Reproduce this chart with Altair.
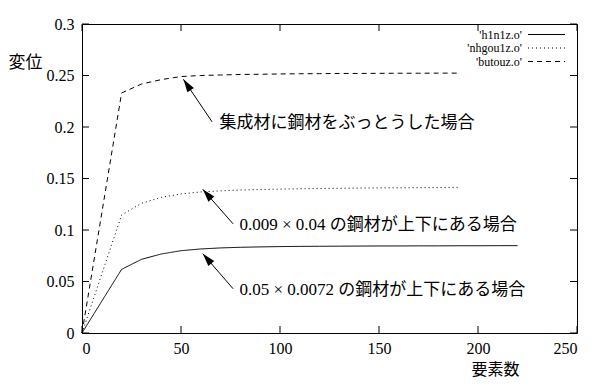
import math
import altair as alt
import pandas as pd

# ---------------- data ----------------
x_short = [0, 20, 30, 40, 50, 60, 70, 80, 90, 100, 110, 120, 130, 140, 150, 160, 170, 180, 190]
x_long = [0, 20, 30, 40, 50, 60, 70, 80, 90, 100, 110, 120, 130, 140, 150, 160, 170, 180, 190, 200, 210, 220]

h1n1z = [0, 0.0618, 0.0715, 0.0767, 0.0799, 0.0816, 0.0826, 0.0832, 0.0836, 0.0839, 0.0841,
         0.0842, 0.0843, 0.0844, 0.0845, 0.0845, 0.0846, 0.0846, 0.0847, 0.0847, 0.0848, 0.0848]
nhgou1z = [0, 0.1146, 0.1259, 0.1317, 0.1350, 0.1370, 0.1380, 0.1388, 0.1393, 0.1397, 0.1400,
           0.1403, 0.1405, 0.1407, 0.1409, 0.1410, 0.1411, 0.1412, 0.1414]
butouz = [0, 0.2330, 0.2417, 0.2460, 0.2490, 0.2500, 0.2505, 0.2510, 0.2512, 0.2515, 0.2517,
          0.2518, 0.2520, 0.2520, 0.2521, 0.2522, 0.2522, 0.2523, 0.2523]

series_names = ["'h1n1z.o'", "'nhgou1z.o'", "'butouz.o'"]
series_dash = [[1, 0], [1, 3], [5, 4]]

x_ticks = [0, 50, 100, 150, 200, 250]
y_ticks = [0, 0.05, 0.1, 0.15, 0.2, 0.25, 0.3]

ann_text = ["集成材に鋼材をぶっとうした場合",
            "0.009 × 0.04 の鋼材が上下にある場合",
            "0.05 × 0.0072 の鋼材が上下にある場合"]
ann_text_x = [69.5, 79.5, 79.5]
ann_text_y = [0.204, 0.105, 0.042]
ann_tail_x = [65.7, 76.3, 76.3]
ann_tail_y = [0.205, 0.106, 0.043]
ann_head_x = [51.2, 61.0, 61.0]
ann_head_y = [0.2463, 0.1395, 0.0770]

# ---------------- layout ----------------
W, H = 495, 309
XMAX, YMAX = 250, 0.3
SERIF = "Liberation Serif"
FONT = "Liberation Serif, Noto Sans CJK JP"

xs = alt.Scale(domain=[0, XMAX], nice=False, zero=False)
ys = alt.Scale(domain=[0, YMAX], nice=False, zero=False)

xaxis = alt.Axis(values=x_ticks, ticks=False, domain=False, grid=False, labelPadding=7,
                 labelFont=SERIF, labelFontSize=16, labelColor="black",
                 title="要素数", titleAngle=0, titleX=413, titleY=36, titleBaseline="middle",
                 titleAlign="center", titleFont="Noto Sans CJK JP", titleFontSize=16,
                 titleFontWeight="normal", titleColor="black")
yaxis = alt.Axis(values=y_ticks, ticks=False, domain=False, grid=False, labelPadding=8,
                 format="~g", labelFont=SERIF, labelFontSize=16, labelColor="black",
                 title="変位", titleAngle=0, titleX=-74, titleY=38, titleBaseline="middle",
                 titleAlign="left", titleFont="Noto Sans CJK JP", titleFontSize=17,
                 titleFontWeight="normal", titleColor="black")


def X(f):
    return alt.X(f, type="quantitative", scale=xs, axis=xaxis)


def Y(f):
    return alt.Y(f, type="quantitative", scale=ys, axis=yaxis)


# ---------------- series ----------------
frames = []
for name, xv, yv in [(series_names[0], x_long, h1n1z),
                     (series_names[1], x_short, nhgou1z),
                     (series_names[2], x_short, butouz)]:
    frames.append(pd.DataFrame({"x": xv, "y": yv, "series": name}))
df = pd.concat(frames, ignore_index=True)

lines = alt.Chart(df).mark_line(color="black", strokeWidth=1).encode(
    x=X("x"), y=Y("y"),
    detail="series:N",
    strokeDash=alt.StrokeDash("series:N", scale=alt.Scale(domain=series_names, range=series_dash),
                              legend=None),
)

# ---------------- inward ticks (mirror on all four sides) ----------------
tx = pd.DataFrame({"x": x_ticks})
ty = pd.DataFrame({"y": y_ticks})
TL = 7
tick_layers = [
    alt.Chart(tx).mark_rule(color="black", strokeWidth=1).encode(x=X("x"), y=alt.value(H), y2=alt.value(H - TL)),
    alt.Chart(tx).mark_rule(color="black", strokeWidth=1).encode(x=X("x"), y=alt.value(0), y2=alt.value(TL)),
    alt.Chart(ty).mark_rule(color="black", strokeWidth=1).encode(y=Y("y"), x=alt.value(0), x2=alt.value(TL)),
    alt.Chart(ty).mark_rule(color="black", strokeWidth=1).encode(y=Y("y"), x=alt.value(W), x2=alt.value(W - TL)),
]

# ---------------- annotations with arrows ----------------
sx = W / XMAX
sy = H / YMAX
angles = []
for a, b, c, d in zip(ann_tail_x, ann_tail_y, ann_head_x, ann_head_y):
    dx = (c - a) * sx
    dy = -(d - b) * sy
    angles.append(math.degrees(math.atan2(dx, -dy)) % 360)

adf = pd.DataFrame({"tx": ann_tail_x, "ty": ann_tail_y, "hx": ann_head_x, "hy": ann_head_y,
                    "lx": ann_text_x, "ly": ann_text_y, "label": ann_text, "ang": angles})

arrow_lines = alt.Chart(adf).mark_rule(color="black", strokeWidth=1).encode(
    x=X("tx"), y=Y("ty"), x2="hx", y2="hy")
arrow_heads = alt.Chart(adf).mark_point(
    shape="M0,0L0.3,1L-0.3,1Z", filled=True, size=676, color="black", opacity=1, strokeWidth=0
).encode(x=X("hx"), y=Y("hy"), angle=alt.Angle("ang:Q", scale=None))
ann_labels = alt.Chart(adf).mark_text(
    align="left", baseline="middle", font=FONT, fontSize=17, color="black"
).encode(x=X("lx"), y=Y("ly"), text="label:N")

# ---------------- legend (gnuplot style: label left, sample right) ----------------
leg_y = [10.5, 24, 37.5]
legend_layers = []
for name, dash, yy in zip(series_names, series_dash, leg_y):
    legend_layers.append(
        alt.Chart(pd.DataFrame({"t": [name]})).mark_text(
            align="right", baseline="middle", font=SERIF, fontSize=12, color="black"
        ).encode(x=alt.value(440), y=alt.value(yy), text="t:N"))
    legend_layers.append(
        alt.Chart(pd.DataFrame({"t": [name]})).mark_rule(
            color="black", strokeWidth=1, strokeDash=dash
        ).encode(x=alt.value(446), x2=alt.value(483), y=alt.value(yy)))

chart = alt.layer(
    lines, *tick_layers, arrow_lines, arrow_heads, ann_labels, *legend_layers
).properties(
    width=W, height=H,
    autosize=alt.AutoSizeParams(type="none"),
    padding={"left": 74, "top": 16, "right": 15, "bottom": 45},
    background="white",
).configure_view(stroke="black", strokeWidth=1)

chart.save("out.html", embed_options={"renderer": "svg", "actions": False})
